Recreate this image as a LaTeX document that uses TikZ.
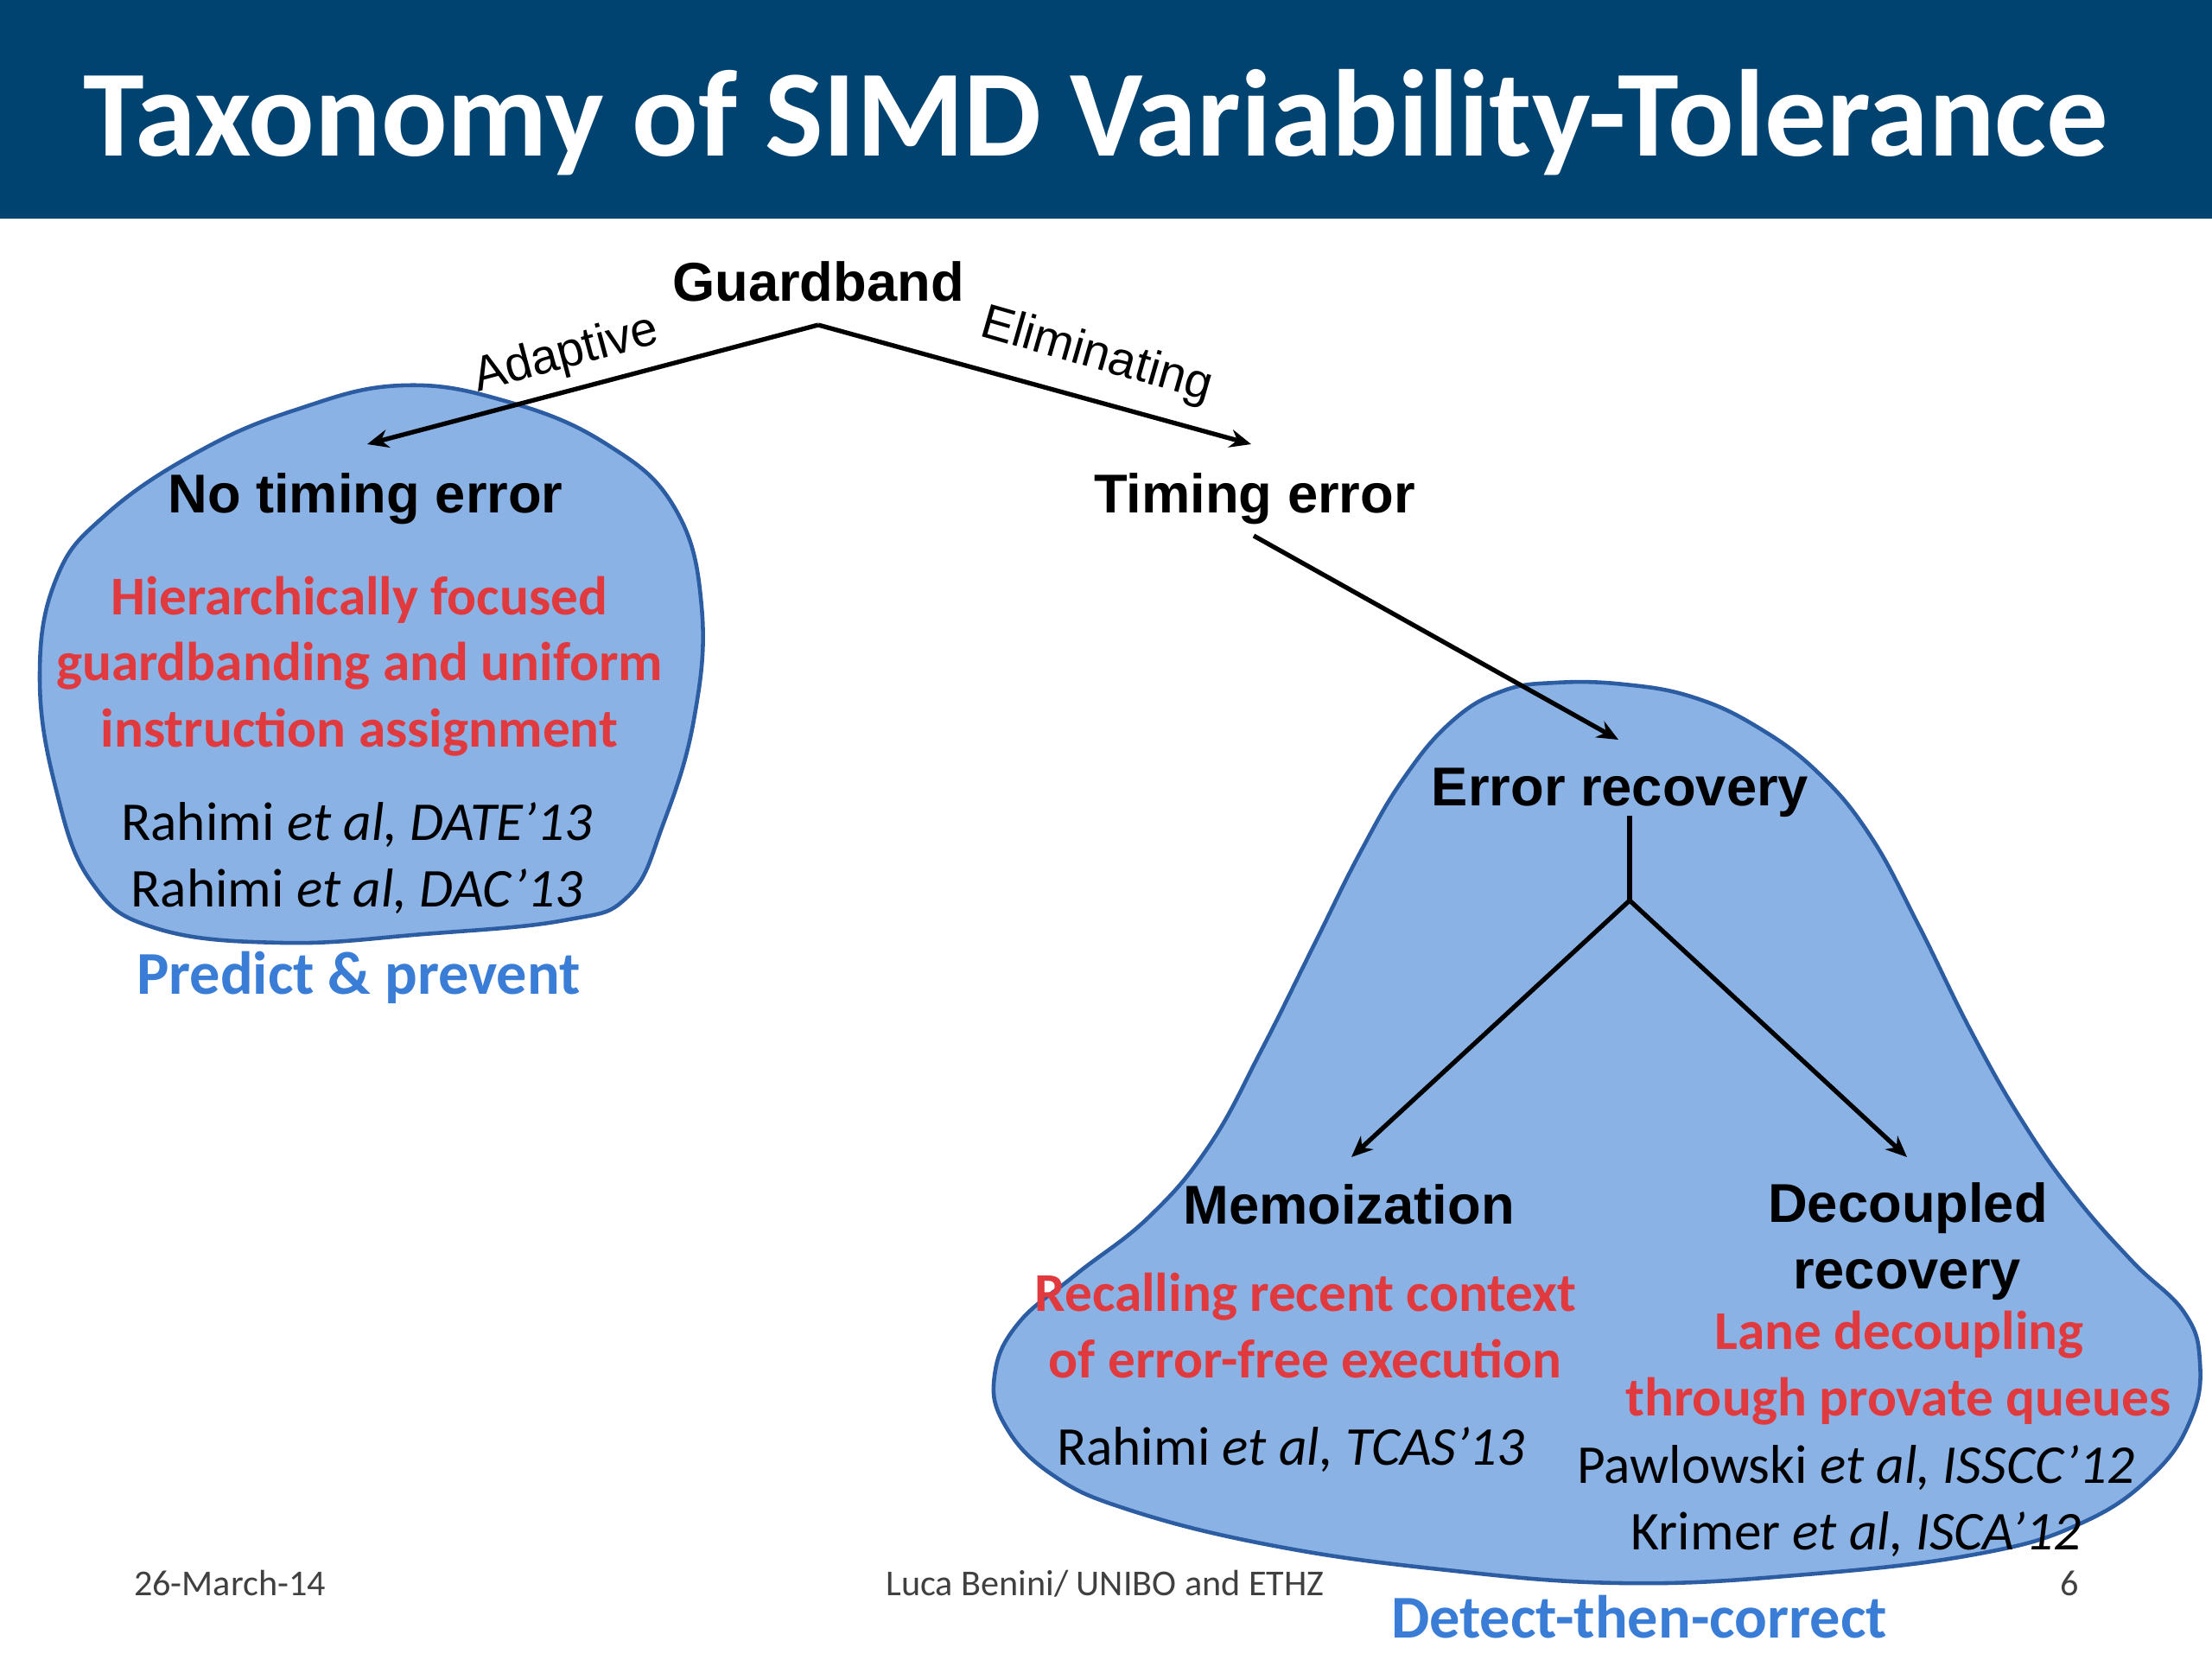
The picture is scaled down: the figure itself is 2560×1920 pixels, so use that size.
\documentclass[tikz,border=0pt]{standalone}
\usepackage{fontspec}
\setmainfont{Carlito}
\newfontfamily\arialf{Liberation Sans}
\usetikzlibrary{arrows.meta}
\definecolor{bandblue}{RGB}{0,67,112}
\definecolor{blobfill}{RGB}{138,178,228}
\definecolor{blobline}{RGB}{44,92,162}
\definecolor{redtxt}{RGB}{224,58,62}
\definecolor{tagblue}{RGB}{58,125,214}
\definecolor{footgray}{RGB}{64,64,64}
\tikzset{
  blob/.style={fill=blobfill, draw=blobline, line width=1.3pt},
  conn/.style={line width=1.5pt, draw=black},
  arr/.style={conn, -{Stealth[length=7pt,width=6pt]}},
  head/.style={anchor=base, inner sep=0pt, font=\arialf\fontsize{18}{22}\selectfont\bfseries},
  redline/.style={anchor=base, inner sep=0pt, text=redtxt, font=\fontsize{18}{22}\selectfont\bfseries},
  refline/.style={anchor=base, inner sep=0pt, font=\fontsize{18}{22}\selectfont},
  tag/.style={anchor=base, inner sep=0pt, text=tagblue, font=\fontsize{20}{24}\selectfont\bfseries},
  foot/.style={anchor=base, inner sep=0pt, text=footgray, font=\fontsize{12}{14}\selectfont},
  elabel/.style={inner sep=0pt, font=\arialf\fontsize{16}{19}\selectfont}
}
\begin{document}
\begin{tikzpicture}[x=0.01cm,y=-0.01cm]
\useasboundingbox (0,0) rectangle (2560,1920);
\fill[white] (0,0) rectangle (2560,1920);
\fill[bandblue] (0,0) rectangle (2560,253);
\node[anchor=base, inner sep=0pt, text=white, font=\fontsize{40.6}{48}\selectfont\bfseries] (title) at (1268,180) {Taxonomy of SIMD Variability-Tolerance};

% blobs
\draw[blob] plot[smooth cycle, tension=0.7] coordinates {
 (465,446) (588,465) (702,514) (781,588) (812,702) (803,833) (767,955)
 (727,1037) (653,1065) (490,1081) (327,1091) (180,1074) (106,1021)
 (65,914) (46,784) (65,670) (122,596) (229,523) (343,474)};
\draw[blob] plot[smooth cycle, tension=0.7] coordinates {
 (1800,790) (1738,800) (1680,835) (1625,900) (1575,985) (1520,1095)
 (1460,1215) (1400,1325) (1330,1408) (1245,1475) (1178,1532) (1151,1592)
 (1163,1649) (1217,1706) (1306,1747) (1470,1788) (1666,1816) (1878,1832)
 (2090,1822) (2290,1798) (2410,1762) (2492,1706) (2536,1641) (2546,1576)
 (2528,1519) (2468,1460) (2402,1385) (2342,1300) (2282,1195) (2220,1070)
 (2165,968) (2105,895) (2035,842) (1960,807) (1880,792)};

% nodes
\node[head] (gb) at (947,348) {Guardband};
\node[head] (nte) at (423,593) {No timing error};
\node[head] (te) at (1452,593) {Timing error};
\node[head] (er) at (1875,932) {Error recovery};
\node[head] (memo) at (1561,1416) {Memoization};
\node[head] (dec1) at (2208,1414) {Decoupled};
\node[head] (dec2) at (2207,1491) {recovery};

\node[redline] (h1) at (416,711) {Hierarchically focused};
\node[redline] (h2) at (416,787) {guardbanding and uniform};
\node[redline] (h3) at (416,864) {instruction assignment};
\node[refline] (r1) at (413,972) {Rahimi \textit{et al, DATE’13}};
\node[refline] (r2) at (413,1049) {Rahimi \textit{et al, DAC’13}};
\node[tag] (pp) at (415,1150) {Predict \& prevent};

\node[redline] (m1) at (1511,1517) {Recalling recent context};
\node[redline] (m2) at (1511,1594) {of error-free execution};
\node[refline] (m3) at (1494,1695) {Rahimi \textit{et al, TCAS’13}};

\node[redline] (d1) at (2198,1561) {Lane decoupling};
\node[redline] (d2) at (2197,1638) {through provate queues};
\node[refline] (d3) at (2148,1716) {Pawlowski \textit{et al, ISSCC’12}};
\node[refline] (d4) at (2148,1793) {Krimer \textit{et al, ISCA’12}};

\node[tag] (dtc) at (1897,1895) {Detect-then-correct};

\node[foot] (date) at (266,1846) {26-March-14};
\node[foot] (auth) at (1279,1846) {Luca Benini/ UNIBO and ETHZ};
\node[foot] (pg) at (2395,1846) {6};

% connectors
\coordinate (apex) at (947,376);
\coordinate (ltip) at (425,514);
\coordinate (rtip) at (1448,514);
\coordinate (testart) at (1451,620);
\coordinate (ertip) at (1873,856);
\coordinate (erbot) at (1886,944);
\coordinate (fork) at (1886,1042);
\coordinate (memotip) at (1564,1339);
\coordinate (dectip) at (2207,1339);

\draw[arr] (apex) -- (ltip);
\draw[arr] (apex) -- (rtip);
\draw[arr] (testart) -- (ertip);
\draw[conn] (erbot) -- (fork);
\draw[arr] (fork) -- (memotip);
\draw[arr] (fork) -- (dectip);

\node[elabel, rotate=15] (lad) at (655,411) {Adaptive};
\node[elabel, rotate=-16] (lel) at (1269,412) {Eliminating};
\end{tikzpicture}
\end{document}
